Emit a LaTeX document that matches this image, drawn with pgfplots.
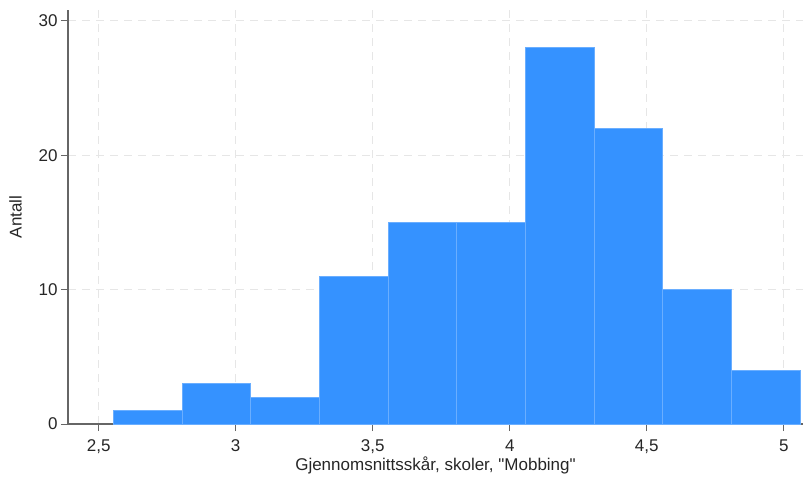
\documentclass[border=0pt]{standalone}
\usepackage{pgfplots}
\pgfplotsset{compat=1.18}
\usepackage{fontspec}
\setmainfont{Liberation Sans}[Ligatures=TeXOff]
\definecolor{barblue}{HTML}{3592FF}
\definecolor{edgeblue}{HTML}{6AAEFF}
\definecolor{axgray}{HTML}{666666}
\definecolor{gridgray}{HTML}{E6E6E6}
\begin{document}
\begin{tikzpicture}
\begin{axis}[
  name=ax,
  at={(0,0)}, anchor=south west,
  scale only axis,
  width=735pt, height=414pt,
  xmin=2.388, xmax=5.07,
  ymin=0, ymax=30.8,
  axis x line*=bottom, axis y line*=left,
  axis line style={axgray, line width=1.2pt},
  xtick={2.5,3,3.5,4,4.5,5},
  xticklabels={{2,5},3,{3,5},4,{4,5},5},
  ytick={0,10,20,30},
  /pgf/number format/assume math mode=true,
  tick style={axgray, line width=1pt},
  tick align=outside,
  major tick length=7pt,
  grid=major,
  major grid style={gridgray, dashed, line width=1pt, dash pattern=on 8pt off 6pt},
  ticklabel style={font=\fontsize{17}{20}\selectfont, text=black!85},
  xticklabel style={yshift=-5pt},
  xlabel={Gjennomsnittsskår, skoler, "Mobbing"},
  ylabel={Antall},
  label style={font=\fontsize{17}{20}\selectfont, text=black!85},
  xlabel style={yshift=4pt},
  ylabel style={yshift=10pt},
  clip=false,
]
\addplot[ybar interval, fill=barblue, draw=edgeblue, line width=0.8pt] coordinates {
(2.554,1) (2.8045,3) (3.055,2) (3.3055,11) (3.556,15) (3.8065,15)
(4.057,28) (4.3075,22) (4.558,10) (4.8085,4) (5.059,4)
};
\end{axis}
\pgfresetboundingbox
\path[use as bounding box] ([xshift=-68pt,yshift=-53pt]ax.south west) rectangle ([yshift=10pt]ax.north east);
\end{tikzpicture}
\end{document}
